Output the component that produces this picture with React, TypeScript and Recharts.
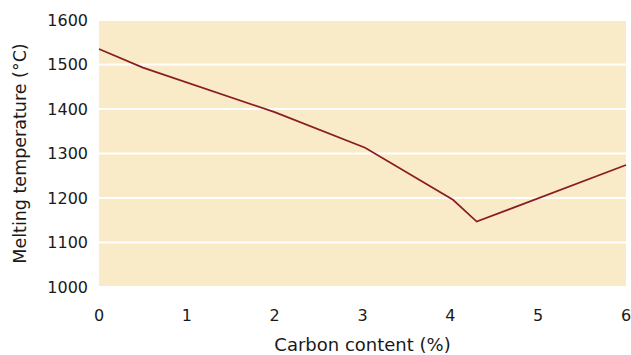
import React from 'react';
import { LineChart, Line, XAxis, YAxis, CartesianGrid, Label } from 'recharts';

const carbon = [0, 0.5, 2.0, 3.03, 4.03, 4.3, 6];
const meltTemp = [1535, 1493, 1393, 1313, 1196, 1147, 1274];
const xTicks = [0, 1, 2, 3, 4, 5, 6];
const yTicks = [1000, 1100, 1200, 1300, 1400, 1500, 1600];
const xTitle = 'Carbon content (%)';
const yTitle = 'Melting temperature (°C)';

const data = carbon.map((c, i) => ({ c, t: meltTemp[i] }));

const font = '"DejaVu Sans", sans-serif';
const textColor = '#1a1a1a';
const tickStyle = { fontSize: 16, fill: textColor, fontFamily: font };

const XTitle = (props: any) => {
  const vb = props.viewBox || {};
  const cx = vb.x + vb.width / 2;
  const by = vb.y + vb.height - 4.5;
  return (
    <text x={cx} y={by} textAnchor="middle" fontSize={18} fontFamily={font} fill={textColor}>
      {xTitle}
    </text>
  );
};

const YTitle = (props: any) => {
  const vb = props.viewBox || {};
  const cy = vb.y + vb.height / 2;
  const bx = vb.x + 26;
  return (
    <text x={bx} y={cy} transform={`rotate(-90 ${bx} ${cy})`} textAnchor="middle" fontSize={17.5} fontFamily={font} fill={textColor}>
      {yTitle}
    </text>
  );
};

export default function App() {
  return (
    <div style={{ position: 'absolute', left: 0, top: 0, background: '#fff' }}>
      <LineChart width={631} height={355} data={data} margin={{ top: 20, right: 5, bottom: 0, left: 0 }}>
        <CartesianGrid horizontal={true} vertical={false} fill="#FAEBC8" stroke="#ffffff" strokeWidth={2} />
        <XAxis
          dataKey="c"
          type="number"
          domain={[0, 6]}
          ticks={xTicks}
          axisLine={false}
          tickLine={false}
          tickSize={0}
          tickMargin={23}
          height={68}
          tick={tickStyle}
          interval={0}
        >
          <Label content={XTitle} />
        </XAxis>
        <YAxis
          type="number"
          domain={[1000, 1600]}
          ticks={yTicks}
          axisLine={false}
          tickLine={false}
          tickSize={0}
          tickMargin={11}
          width={99}
          tick={tickStyle}
          interval={0}
        >
          <Label content={YTitle} />
        </YAxis>
        <Line type="linear" dataKey="t" stroke="#8B1C24" strokeWidth={1.7} dot={false} isAnimationActive={false} />
      </LineChart>
    </div>
  );
}
